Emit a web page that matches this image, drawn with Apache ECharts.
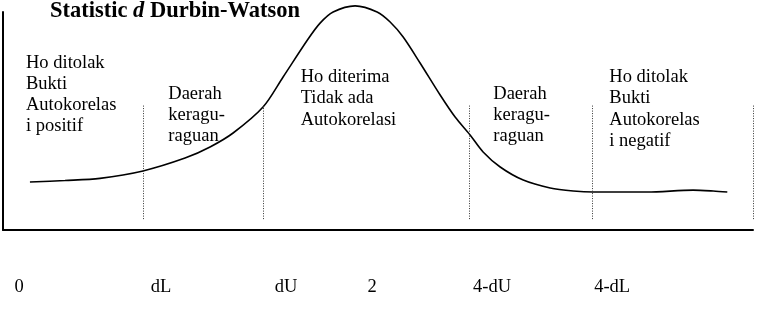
<!DOCTYPE html>
<html>
<head>
<meta charset="utf-8">
<script src="https://cdn.jsdelivr.net/npm/echarts@6/dist/echarts.min.js"></script>
<style>html,body{margin:0;padding:0;background:#fff}#c{width:762px;height:312px}</style>
</head>
<body>
<div id="c"></div>
<script>
// Curve (x in d units, y = relative density)
const curveX = [0.153,0.352,0.551,0.795,1.034,1.176,1.307,1.477,1.591,1.733,1.801,1.875,2.0,2.125,2.199,2.273,2.369,2.483,2.568,2.653,2.727,2.824,2.955,3.108,3.239,3.352,3.659,3.920,4.034,4.114];
const curveY = [22.0,22.7,23.7,27.1,33.0,38.1,44.5,56.4,70.2,87.6,94.9,100.0,102.8,100.0,95.4,88.5,76.6,61.9,51.8,43.6,35.8,28.9,22.9,19.3,17.9,17.4,17.4,18.3,17.9,17.4];
// Divider positions (d units) and their vertical extent
const dividerX = [0.795,1.477,2.648,3.347,4.26];
const dividerRange = [5,57.3];
// Tick labels
const tickLabels = ['0','dL','dU','2','4-dU','4-dL'];
const tickPos = [0.091,0.898,1.608,2.097,2.778,3.460];
// Region texts
const regionTexts = [
  'Ho ditolak\nBukti\nAutokorelas\ni positif',
  'Daerah\nkeragu-\nraguan',
  'Ho diterima\nTidak ada\nAutokorelasi',
  'Daerah\nkeragu-\nraguan',
  'Ho ditolak\nBukti\nAutokorelas\ni negatif'
];
const regionPos = [[26,52.3],[168.3,83.3],[300.7,66.7],[493.3,83.3],[609.3,66.7]];

const serif = "'Liberation Serif','Times New Roman',serif";
const chart = echarts.init(document.getElementById('c'));
chart.setOption({
  animation:false,
  backgroundColor:'#fff',
  grid:{left:3,right:9,top:12,bottom:82},
  xAxis:[{
    type:'value',min:0,max:4.26,
    axisLine:{show:true,onZero:false,lineStyle:{color:'#000',width:2}},
    axisTick:{show:false},axisLabel:{show:false},splitLine:{show:false}
  },{
    type:'value',min:0,max:4.26,position:'bottom',
    axisLine:{show:false},axisTick:{show:false},splitLine:{show:false},
    axisLabel:{show:true,customValues:tickPos,margin:48,color:'#000',fontFamily:serif,fontSize:18.5,
      formatter:function(v){let best=0;for(let i=0;i<tickPos.length;i++){if(Math.abs(tickPos[i]-v)<Math.abs(tickPos[best]-v))best=i;}return tickLabels[best];}}
  }],
  yAxis:{type:'value',min:0,max:100,
    axisLine:{show:true,lineStyle:{color:'#000',width:2}},
    axisTick:{show:false},axisLabel:{show:false},splitLine:{show:false}},
  series:[{
    type:'line',clip:false,smooth:0.3,symbol:'none',
    data:curveX.map((x,i)=>[x,curveY[i]]),
    lineStyle:{color:'#000',width:1.6},
    markLine:{silent:true,symbol:'none',label:{show:false},
      lineStyle:{color:'#333',type:[1,1.5],width:1},
      data:dividerX.map(x=>[{coord:[x,dividerRange[0]]},{coord:[x,dividerRange[1]]}])}
  }],
  graphic:[{
    type:'text',left:50,top:0,
    style:{text:'{b|Statistic }{i|d}{b| Durbin-Watson}',
      rich:{b:{fontFamily:serif,fontWeight:'bold',fontSize:22.5,fill:'#000',lineHeight:23},
            i:{fontFamily:serif,fontWeight:'bold',fontStyle:'italic',fontSize:22.5,fill:'#000',lineHeight:23}}}
  }].concat(regionTexts.map((t,i)=>({
    type:'text',left:regionPos[i][0],top:regionPos[i][1],
    style:{text:t,fontFamily:serif,fontSize:18.5,lineHeight:21.2,fill:'#000'}
  })))
});
</script>
</body>
</html>
